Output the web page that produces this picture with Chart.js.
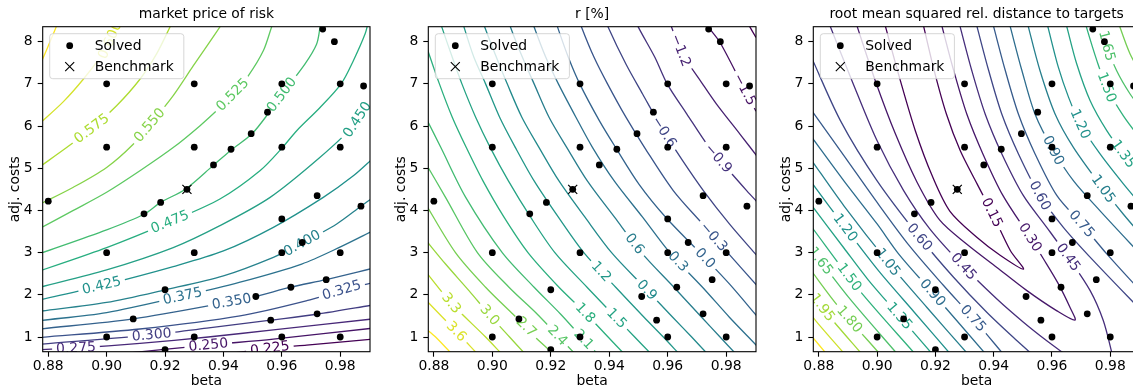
<!DOCTYPE html>
<html>
<head>
<meta charset="utf-8">
<script src="https://cdn.jsdelivr.net/npm/chart.js@4/dist/chart.umd.min.js"></script>
<style>
  html, body { margin: 0; padding: 0; background: #fff; }
  #wrap { position: relative; width: 1133px; height: 390px; overflow: hidden; }
  canvas { position: absolute; top: 0; }
</style>
</head>
<body>
<div id="wrap">
  <canvas id="c1" width="400" height="390" style="left:0px"></canvas>
  <canvas id="c2" width="400" height="390" style="left:386px"></canvas>
  <canvas id="c3" width="400" height="390" style="left:771px"></canvas>
</div>
<script>
// --- solved grid and benchmark (beta, adj. costs) ---
const solvedBeta = [0.974, 0.978, 0.90, 0.93, 0.96, 0.98, 0.988, 0.9551, 0.9495, 0.9426, 0.9366, 0.90, 0.93, 0.96, 0.98, 0.9275,
  0.9721, 0.88, 0.9185, 0.9128, 0.96, 0.9871, 0.967, 0.90, 0.93, 0.96, 0.98, 0.9752, 0.9631, 0.92, 0.9511, 0.9091, 0.9562, 0.9721,
  0.90, 0.93, 0.96, 0.98, 0.92];
const solvedCost = [8.30, 8.00, 7.0, 7.0, 7.0, 7.0, 6.95, 6.33, 5.82, 5.45, 5.08, 5.5, 5.5, 5.5, 5.5, 4.5,
  4.35, 4.22, 4.19, 3.92, 3.80, 4.10, 3.24, 3.0, 3.0, 3.0, 3.0, 2.36, 2.18, 2.12, 1.96, 1.43, 1.40, 1.55,
  1.0, 1.0, 1.0, 1.0, 0.70];
const benchBeta = [0.9275];
const benchCost = [4.5];

const xTicks = [0.88, 0.90, 0.92, 0.94, 0.96, 0.98];
const yTicks = [1, 2, 3, 4, 5, 6, 7, 8];

// --- market price of risk: levels, traced contour lines, label spots ---
const mprLevels = [0.225, 0.25, 0.275, 0.3, 0.325, 0.35, 0.375, 0.4, 0.425, 0.45, 0.475, 0.5, 0.525, 0.55, 0.575, 0.6, 0.625];
const mprPaths = [
  [[0.9411,0.60],[0.9559,0.73],[0.9685,0.81],[0.9913,0.95]],
  [[0.9046,0.60],[0.9348,0.81],[0.9571,0.95],[0.9913,1.21]],
  [[0.8772,0.70],[0.8897,0.74],[0.9114,0.85],[0.9348,1.00],[0.9571,1.17],[0.9913,1.43]],
  [[0.8772,0.83],[0.9154,1.05],[0.9343,1.21],[0.9562,1.40],[0.9720,1.54],[0.9913,1.76]],
  [[0.8772,0.99],[0.9114,1.19],[0.9457,1.50],[0.9685,1.86],[0.9805,2.11],[0.9913,2.29]],
  [[0.8772,1.19],[0.9091,1.43],[0.9428,1.84],[0.9512,1.96],[0.9630,2.18],[0.9751,2.36],[0.9913,2.63]],
  [[0.8772,1.39],[0.9000,1.58],[0.9260,1.97],[0.9457,2.30],[0.9668,2.73],[0.9799,3.13],[0.9913,3.52]],
  [[0.8772,1.61],[0.9000,1.82],[0.9201,2.12],[0.9400,2.45],[0.9571,2.89],[0.9668,3.22],[0.9788,3.68],[0.9871,4.10],[0.9913,4.31]],
  [[0.8772,1.88],[0.8983,2.22],[0.9228,2.67],[0.9400,3.04],[0.9571,3.60],[0.9742,4.31],[0.9845,4.82],[0.9913,5.24]],
  [[0.8772,2.18],[0.9000,2.59],[0.9228,3.12],[0.9388,3.64],[0.9560,4.31],[0.9731,5.26],[0.9845,6.01],[0.9913,6.72]],
  [[0.8772,2.57],[0.9000,3.12],[0.9217,3.73],[0.9388,4.27],[0.9525,4.94],[0.9602,5.49],[0.9651,5.89],[0.9731,6.44],[0.9803,7.00],[0.9845,7.55],[0.9885,8.18],[0.9896,8.46]],
  [[0.8772,2.98],[0.9000,3.54],[0.9128,3.91],[0.9185,4.19],[0.9271,4.51],[0.9367,5.08],[0.9428,5.44],[0.9497,5.81],[0.9554,6.30],[0.9599,6.74],[0.9679,7.47],[0.9719,7.94],[0.9731,8.35],[0.9733,8.46]],
  [[0.8772,3.58],[0.8886,4.00],[0.9000,4.43],[0.9114,4.94],[0.9228,5.49],[0.9320,6.01],[0.9388,6.44],[0.9434,6.76],[0.9485,7.19],[0.9537,7.79],[0.9565,8.35],[0.9571,8.46]],
  [[0.8772,4.15],[0.8886,4.55],[0.9000,5.02],[0.9091,5.57],[0.9160,6.13],[0.9228,6.72],[0.9297,7.43],[0.9388,8.35],[0.9395,8.46]],
  [[0.8772,5.04],[0.8863,5.49],[0.8949,5.94],[0.9034,6.48],[0.9114,7.11],[0.9171,7.71],[0.9217,8.35],[0.9223,8.46]],
  [[0.8772,6.07],[0.8852,6.58],[0.8920,7.11],[0.8977,7.63],[0.9011,8.02],[0.9032,8.35],[0.9037,8.46]],
  [[0.8772,7.45],[0.8800,7.90],[0.8827,8.35],[0.8831,8.46]]
];
const mprLabelAt = [
  [0.9559,0.73], [0.9348,0.81], [0.8895,0.74], [0.9154,1.05], [0.9805,2.11], [0.9428,1.84], [0.9260,1.97],
  [0.9668,3.24], [0.8983,2.22], [0.9848,6.20], [0.9217,3.73], [0.9600,6.74], [0.9432,6.74], [0.9135,6.09],
  [0.8949,5.94], [0.9013,8.03], null
];

// --- r [%] ---
const rLevels = [-1.8, -1.5, -1.2, -0.9, -0.6, -0.3, 0.0, 0.3, 0.6, 0.9, 1.2, 1.5, 1.8, 2.1, 2.4, 2.7, 3.0, 3.3, 3.6, 3.9];
const rPaths = [
  [[0.9873,8.46],[0.9881,8.35],[0.9902,8.10],[0.9913,7.98]],
  [[0.9733,8.46],[0.9739,8.35],[0.9779,7.98],[0.9859,6.92],[0.9902,6.35],[0.9913,6.21]],
  [[0.9609,8.46],[0.9613,8.35],[0.9647,7.75],[0.9719,7.00],[0.9767,6.52],[0.9847,5.81],[0.9913,5.22]],
  [[0.9495,8.46],[0.9499,8.35],[0.9556,7.63],[0.9598,7.00],[0.9665,6.29],[0.9742,5.49],[0.9790,5.10],[0.9870,4.47],[0.9913,4.15]],
  [[0.9393,8.46],[0.9396,8.35],[0.9457,7.47],[0.9514,6.76],[0.9585,5.89],[0.9651,5.18],[0.9722,4.47],[0.9811,3.68],[0.9896,3.00],[0.9913,2.87]],
  [[0.9302,8.46],[0.9305,8.35],[0.9348,7.63],[0.9394,7.00],[0.9457,6.21],[0.9521,5.49],[0.9619,4.47],[0.9719,3.68],[0.9805,3.00],[0.9913,2.16]],
  [[0.9219,8.46],[0.9223,8.35],[0.9260,7.63],[0.9299,7.00],[0.9366,6.13],[0.9422,5.49],[0.9502,4.62],[0.9593,3.84],[0.9710,3.00],[0.9811,2.26],[0.9913,1.43]],
  [[0.9139,8.46],[0.9143,8.35],[0.9183,7.63],[0.9226,7.00],[0.9286,6.21],[0.9343,5.49],[0.9417,4.70],[0.9514,3.84],[0.9607,3.00],[0.9719,2.18],[0.9811,1.47],[0.9876,1.00],[0.9925,0.64]],
  [[0.9059,8.46],[0.9062,8.35],[0.9103,7.63],[0.9143,7.00],[0.9194,6.21],[0.9255,5.49],[0.9325,4.70],[0.9418,3.84],[0.9510,3.00],[0.9621,2.18],[0.9716,1.47],[0.9779,1.00],[0.9833,0.60]],
  [[0.8970,8.46],[0.8974,8.35],[0.9014,7.63],[0.9051,7.00],[0.9101,6.21],[0.9160,5.49],[0.9228,4.70],[0.9317,3.84],[0.9408,3.00],[0.9520,2.18],[0.9617,1.47],[0.9682,1.00],[0.9736,0.60]],
  [[0.8900,8.46],[0.8903,8.35],[0.8937,7.63],[0.8977,7.00],[0.9025,6.21],[0.9079,5.49],[0.9143,4.70],[0.9226,3.84],[0.9313,3.00],[0.9422,2.18],[0.9519,1.47],[0.9585,1.00],[0.9639,0.60]],
  [[0.8822,8.46],[0.8827,8.35],[0.8863,7.63],[0.8896,7.00],[0.8943,6.21],[0.8993,5.49],[0.9055,4.70],[0.9131,3.84],[0.9214,3.00],[0.9324,2.18],[0.9422,1.47],[0.9487,1.00],[0.9543,0.60]],
  [[0.8760,8.18],[0.8772,7.94],[0.8819,7.00],[0.8863,6.21],[0.8911,5.49],[0.8968,4.70],[0.9040,3.84],[0.9122,3.00],[0.9228,2.18],[0.9314,1.60],[0.9396,1.00],[0.9451,0.60]],
  [[0.8772,6.21],[0.8824,5.49],[0.8909,4.31],[0.9034,3.00],[0.9143,2.18],[0.9234,1.54],[0.9305,1.00],[0.9360,0.60]],
  [[0.8772,5.12],[0.8840,4.31],[0.8949,3.00],[0.9057,2.18],[0.9154,1.54],[0.9228,1.00],[0.9283,0.60]],
  [[0.8772,4.15],[0.8874,3.00],[0.8977,2.18],[0.9071,1.54],[0.9116,1.24],[0.9146,1.00],[0.9210,0.60]],
  [[0.8772,3.30],[0.8840,2.73],[0.8920,2.10],[0.8991,1.52],[0.9059,1.00],[0.9112,0.60]],
  [[0.8772,2.55],[0.8860,1.80],[0.8977,1.00],[0.9032,0.60]],
  [[0.8772,1.88],[0.8877,1.13],[0.8949,0.60]],
  [[0.8772,1.20],[0.8806,1.00],[0.8861,0.60]]
];
const rLabelAt = [
  null, [0.9859,6.85], [0.9647,7.80], [0.9779,5.27], [0.9590,5.87], [0.9762,3.40], [0.9727,2.86], [0.9636,2.79],
  [0.9482,3.18], [0.9528,2.11], [0.9373,2.55], [0.9431,1.48], [0.9322,1.60], [0.9311,0.93], [0.9219,1.01],
  [0.9116,1.24], [0.8991,1.52], [0.8860,1.80], [0.8877,1.13], null
];

// --- root mean squared rel. distance to targets (two branches for most levels) ---
const rmsLevels = [0.15, 0.30, 0.45, 0.60, 0.75, 0.90, 1.05, 1.20, 1.35, 1.50, 1.65, 1.80, 1.95, 2.10, 2.25];
const rmsPaths = [
  [[[0.9025,8.46],[0.9029,8.35],[0.9080,7.07],[0.9131,5.89],[0.9189,4.82],[0.9250,3.98],[0.9343,3.36],[0.9422,2.94],[0.9502,2.61],
    [0.9457,3.05],[0.9394,3.95],[0.9343,4.63],[0.9285,5.42],[0.9238,6.28],[0.9196,7.31],[0.9160,8.35],[0.9156,8.46]]],
  [[[0.8927,8.46],[0.8932,8.35],[0.8994,7.07],[0.9063,5.81],[0.9137,4.67],[0.9215,3.77],[0.9308,3.20],[0.9411,2.65],[0.9514,2.10],[0.9617,1.62],[0.9679,1.40],
    [0.9662,1.70],[0.9622,2.26],[0.9571,2.85],[0.9525,3.36],[0.9432,4.35],[0.9363,5.34],[0.9308,6.28],[0.9263,7.31],[0.9223,8.35],[0.9219,8.46]]],
  [[[0.8834,8.46],[0.8840,8.35],[0.8914,7.07],[0.9000,5.65],[0.9091,4.47],[0.9180,3.57],[0.9297,2.67],[0.9411,1.90],[0.9502,1.35],[0.9582,0.91],[0.9651,0.56]],
   [[0.9282,8.46],[0.9285,8.35],[0.9325,7.31],[0.9371,6.28],[0.9428,5.34],[0.9502,4.35],[0.9582,3.60],[0.9656,2.89],[0.9731,2.10],[0.9776,1.39],[0.9808,0.56]]],
  [[[0.8772,7.67],[0.8874,6.13],[0.9000,4.70],[0.9145,3.37],[0.9263,2.41],[0.9377,1.58],[0.9480,0.91],[0.9537,0.56]],
   [[0.9339,8.46],[0.9343,8.35],[0.9383,7.31],[0.9428,6.28],[0.9485,5.34],[0.9559,4.35],[0.9639,3.60],[0.9742,2.81],[0.9913,1.58]]],
  [[[0.8772,6.40],[0.8886,5.30],[0.9000,4.19],[0.9111,3.16],[0.9228,2.22],[0.9331,1.43],[0.9437,0.56]],
   [[0.9396,8.46],[0.9400,8.35],[0.9440,7.31],[0.9485,6.28],[0.9542,5.34],[0.9617,4.35],[0.9702,3.68],[0.9788,2.97],[0.9913,2.02]]],
  [[[0.8772,5.77],[0.8886,4.70],[0.9000,3.68],[0.9075,2.96],[0.9194,2.02],[0.9377,0.56]],
   [[0.9453,8.46],[0.9457,8.35],[0.9497,7.31],[0.9542,6.28],[0.9605,5.42],[0.9674,4.70],[0.9765,3.99],[0.9913,2.89]]],
  [[[0.8772,5.22],[0.8886,4.11],[0.9040,2.75],[0.9171,1.70],[0.9316,0.56]],
   [[0.9516,8.46],[0.9519,8.35],[0.9559,7.31],[0.9611,6.28],[0.9674,5.49],[0.9776,4.51],[0.9845,3.91],[0.9913,3.36]]],
  [[[0.8772,4.69],[0.8892,3.58],[0.9006,2.56],[0.9126,1.60],[0.9256,0.56]],
   [[0.9582,8.46],[0.9586,8.35],[0.9622,7.39],[0.9657,6.68],[0.9697,6.05],[0.9765,5.34],[0.9845,4.63],[0.9913,4.07]]],
  [[[0.8772,4.15],[0.8886,3.11],[0.8970,2.35],[0.9074,1.52],[0.9194,0.56]],
   [[0.9647,8.46],[0.9651,8.35],[0.9685,7.47],[0.9731,6.60],[0.9788,5.89],[0.9845,5.34],[0.9913,4.74]]],
  [[[0.8772,3.64],[0.8935,2.14],[0.9135,0.56]],
   [[0.9715,8.46],[0.9718,8.35],[0.9754,7.55],[0.9788,6.92],[0.9845,6.24],[0.9913,5.61]]],
  [[[0.8772,3.11],[0.8901,1.95],[0.9074,0.56]],
   [[0.9767,8.46],[0.9771,8.35],[0.9788,7.90],[0.9822,7.31],[0.9868,6.76],[0.9913,6.35]]],
  [[[0.8772,2.59],[0.8865,1.74],[0.9014,0.56]],
   [[0.9830,8.46],[0.9833,8.35],[0.9868,7.71],[0.9913,7.15]]],
  [[[0.8772,2.07],[0.8830,1.54],[0.8952,0.56]],
   [[0.9887,8.46],[0.9891,8.35],[0.9913,8.06]]],
  [[[0.8772,1.54],[0.8796,1.33],[0.8893,0.56]]],
  [[[0.8772,1.05],[0.8831,0.56]]]
];
const rmsLabelAt = [
  [[0.9394,3.95]], [[0.9525,3.36]], [[0.9297,2.67],[0.9656,2.89]], [[0.9148,3.38],[0.9559,4.35]],
  [[0.9336,1.48],[0.9702,3.68]], [[0.9194,2.07],[0.9605,5.42]], [[0.9029,2.73],[0.9776,4.51]],
  [[0.8892,3.60],[0.9697,6.05]], [[0.9074,1.48],[0.9845,5.34]], [[0.8903,2.41],[0.9788,6.92]],
  [[0.8800,2.77],[0.9788,7.90]], [[0.8914,1.47]], [[0.8812,1.70]], [], []
];

// ---------------------------------------------------------------------------
const FAMILY = "'DejaVu Sans', 'Liberation Sans', sans-serif";
const FS = 13.9;
const FONT = FS + 'px ' + FAMILY;
Chart.defaults.font.family = FAMILY;
Chart.defaults.font.size = FS;
Chart.defaults.color = '#000';

const VIRIDIS = [[68,1,84],[72,40,120],[59,82,139],[44,114,142],[33,145,140],[40,174,128],[94,201,98],[173,220,48],[253,231,37]];
function viridis(t) {
  t = Math.max(0, Math.min(1, t)) * (VIRIDIS.length - 1);
  const i = Math.min(Math.floor(t), VIRIDIS.length - 2), f = t - i;
  const c = VIRIDIS[i].map((v, k) => Math.round(v + (VIRIDIS[i + 1][k] - v) * f));
  return `rgb(${c[0]},${c[1]},${c[2]})`;
}

// contour labels: text drawn along the line, line cut out underneath
function contourLabelPlugin(labels) {
  let cuts = {};
  return {
    id: 'contourLabels',
    beforeDatasetsDraw(chart) {
      const { ctx, chartArea: a } = chart;
      const xs = chart.scales.x, ys = chart.scales.y;
      cuts = {};
      ctx.save();
      ctx.beginPath();
      ctx.rect(a.left, a.top, a.right - a.left, a.bottom - a.top);
      ctx.clip();
      ctx.font = FONT;
      labels.forEach(lab => {
        const px = xs.getPixelForValue(lab.x), py = ys.getPixelForValue(lab.y);
        let best = null;
        lab.datasets.forEach(di => {
          const pts = chart.getDatasetMeta(di).data;
          for (let i = 0; i < pts.length - 1; i++) {
            const ax = pts[i].x, ay = pts[i].y, dx = pts[i + 1].x - ax, dy = pts[i + 1].y - ay;
            const len2 = dx * dx + dy * dy || 1;
            const t = Math.max(0, Math.min(1, ((px - ax) * dx + (py - ay) * dy) / len2));
            const qx = ax + t * dx, qy = ay + t * dy;
            const d = (qx - px) ** 2 + (qy - py) ** 2;
            if (!best || d < best.d) best = { d, qx, qy, ang: Math.atan2(dy, dx), di };
          }
        });
        if (!best) return;
        let ang = best.ang;
        if (ang > Math.PI / 2) ang -= Math.PI;
        if (ang <= -Math.PI / 2) ang += Math.PI;
        const w = ctx.measureText(lab.text).width;
        (cuts[best.di] = cuts[best.di] || []).push({ x: best.qx, y: best.qy, ang, hw: w / 2 + 4, hh: 9 });
        ctx.save();
        ctx.translate(best.qx, best.qy);
        ctx.rotate(ang);
        ctx.fillStyle = lab.color;
        ctx.textAlign = 'center';
        ctx.textBaseline = 'middle';
        ctx.fillText(lab.text, 0, 0.5);
        ctx.restore();
      });
      ctx.restore();
    },
    beforeDatasetDraw(chart, args) {
      const list = cuts[args.index];
      if (!list) return;
      const ctx = chart.ctx;
      ctx.save();
      ctx.beginPath();
      ctx.rect(0, 0, chart.width, chart.height);
      list.forEach(c => {
        const cs = Math.cos(c.ang), sn = Math.sin(c.ang);
        [[-c.hw, -c.hh], [c.hw, -c.hh], [c.hw, c.hh], [-c.hw, c.hh]].forEach(([u, v], k) => {
          const X = c.x + u * cs - v * sn, Y = c.y + u * sn + v * cs;
          if (k) ctx.lineTo(X, Y); else ctx.moveTo(X, Y);
        });
        ctx.closePath();
      });
      ctx.clip('evenodd');
    },
    afterDatasetDraw(chart, args) {
      if (cuts[args.index]) chart.ctx.restore();
    }
  };
}

// spines, title and the legend box
function decoPlugin(title) {
  return {
    id: 'panelDeco',
    afterDraw(chart) {
      const { ctx, chartArea: a } = chart;
      ctx.save();
      ctx.strokeStyle = '#000';
      ctx.lineWidth = 1.1;
      ctx.strokeRect(a.left, a.top, a.right - a.left, a.bottom - a.top);

      ctx.fillStyle = '#000';
      ctx.font = FONT;
      ctx.textAlign = 'center';
      ctx.textBaseline = 'alphabetic';
      ctx.fillText(title, (a.left + a.right) / 2, a.top - 8.3);

      const x0 = a.left + 7, y0 = a.top + 7;
      const w = ctx.measureText('Benchmark').width + 55, h = 45, r = 3;
      ctx.beginPath();
      ctx.moveTo(x0 + r, y0);
      ctx.arcTo(x0 + w, y0, x0 + w, y0 + h, r);
      ctx.arcTo(x0 + w, y0 + h, x0, y0 + h, r);
      ctx.arcTo(x0, y0 + h, x0, y0, r);
      ctx.arcTo(x0, y0, x0 + w, y0, r);
      ctx.closePath();
      ctx.fillStyle = 'rgba(255,255,255,0.8)';
      ctx.fill();
      ctx.strokeStyle = 'rgba(204,204,204,0.8)';
      ctx.lineWidth = 1;
      ctx.stroke();

      const mx = x0 + 20, r1 = y0 + 12, r2 = y0 + 33;
      ctx.fillStyle = '#000';
      ctx.beginPath();
      ctx.arc(mx, r1, 3.4, 0, Math.PI * 2);
      ctx.fill();
      ctx.strokeStyle = '#000';
      ctx.lineWidth = 1.1;
      ctx.beginPath();
      ctx.moveTo(mx - 4.5, r2 - 4.5); ctx.lineTo(mx + 4.5, r2 + 4.5);
      ctx.moveTo(mx - 4.5, r2 + 4.5); ctx.lineTo(mx + 4.5, r2 - 4.5);
      ctx.stroke();
      ctx.textAlign = 'left';
      ctx.textBaseline = 'middle';
      ctx.fillText('Solved', x0 + 45, r1 + 0.5);
      ctx.fillText('Benchmark', x0 + 45, r2 + 0.5);
      ctx.restore();
    }
  };
}

function isPath(p) { return typeof p[0][0] === 'number'; }

function buildPanel(id, o) {
  const lo = o.levels[0], hi = o.levels[o.levels.length - 1];
  const datasets = [
    { data: benchBeta.map((b, i) => ({ x: b, y: benchCost[i] })), showLine: false,
      pointStyle: 'crossRot', pointRadius: 6.4, borderColor: '#000', borderWidth: 1.2, backgroundColor: '#000' },
    { data: solvedBeta.map((b, i) => ({ x: b, y: solvedCost[i] })), showLine: false,
      pointStyle: 'circle', pointRadius: 3.4, backgroundColor: '#000', borderWidth: 0 }
  ];
  const labels = [];
  o.levels.forEach((lvl, i) => {
    const color = viridis((lvl - lo) / (hi - lo));
    const paths = isPath(o.paths[i]) ? [o.paths[i]] : o.paths[i];
    const idx = [];
    paths.forEach(path => {
      idx.push(datasets.length);
      datasets.push({
        data: path.map(p => ({ x: p[0], y: p[1] })), showLine: true, pointRadius: 0,
        borderColor: color, borderWidth: 1.3, tension: 0.3, clip: 0, fill: false
      });
    });
    let at = o.labelAt[i];
    if (!at) return;
    if (typeof at[0] === 'number') at = [at];
    at.forEach(p => labels.push({ x: p[0], y: p[1], text: o.fmt(lvl), color, datasets: idx }));
  });

  const tickGrid = { drawOnChartArea: false, drawTicks: true, tickLength: 5, tickColor: '#000', tickWidth: 1.1 };
  return new Chart(document.getElementById(id), {
    type: 'scatter',
    data: { datasets },
    options: {
      responsive: false,
      animation: false,
      devicePixelRatio: 1,
      events: [],
      layout: { autoPadding: false, padding: { left: 0, right: o.padRight, top: 26.7, bottom: 0 } },
      elements: { line: { capBezierPoints: false } },
      plugins: { legend: { display: false }, tooltip: { enabled: false }, title: { display: false } },
      scales: {
        x: {
          type: 'linear', min: 0.8781, max: 0.9902,
          afterFit: s => { s.height = 38.3; },
          afterBuildTicks: s => { s.ticks = xTicks.map(v => ({ value: v })); },
          ticks: { autoSkip: false, maxRotation: 0, padding: 1, color: '#000', callback: v => v.toFixed(2) },
          grid: tickGrid,
          border: { display: false },
          title: { display: true, text: 'beta', color: '#000', padding: { top: 0, bottom: 0 } }
        },
        y: {
          type: 'linear', min: 0.652, max: 8.355,
          afterFit: s => { s.width = o.yWidth; },
          afterBuildTicks: s => { s.ticks = yTicks.map(v => ({ value: v })); },
          ticks: { autoSkip: false, padding: 5, color: '#000', callback: v => String(v) },
          grid: tickGrid,
          border: { display: false },
          title: { display: true, text: 'adj. costs', color: '#000', padding: { top: 7, bottom: 0 } }
        }
      }
    },
    plugins: [contourLabelPlugin(labels), decoPlugin(o.title)]
  });
}

buildPanel('c1', { title: 'market price of risk', levels: mprLevels, paths: mprPaths, labelAt: mprLabelAt,
  fmt: v => v.toFixed(3), yWidth: 42.7, padRight: 30 });
buildPanel('c2', { title: 'r [%]', levels: rLevels, paths: rPaths, labelAt: rLabelAt,
  fmt: v => v.toFixed(1).replace('-', '\u2212'), yWidth: 42.3, padRight: 30 });
buildPanel('c3', { title: 'root mean squared rel. distance to targets', levels: rmsLevels, paths: rmsPaths, labelAt: rmsLabelAt,
  fmt: v => v.toFixed(2), yWidth: 42.3, padRight: 31 });
</script>
</body>
</html>
